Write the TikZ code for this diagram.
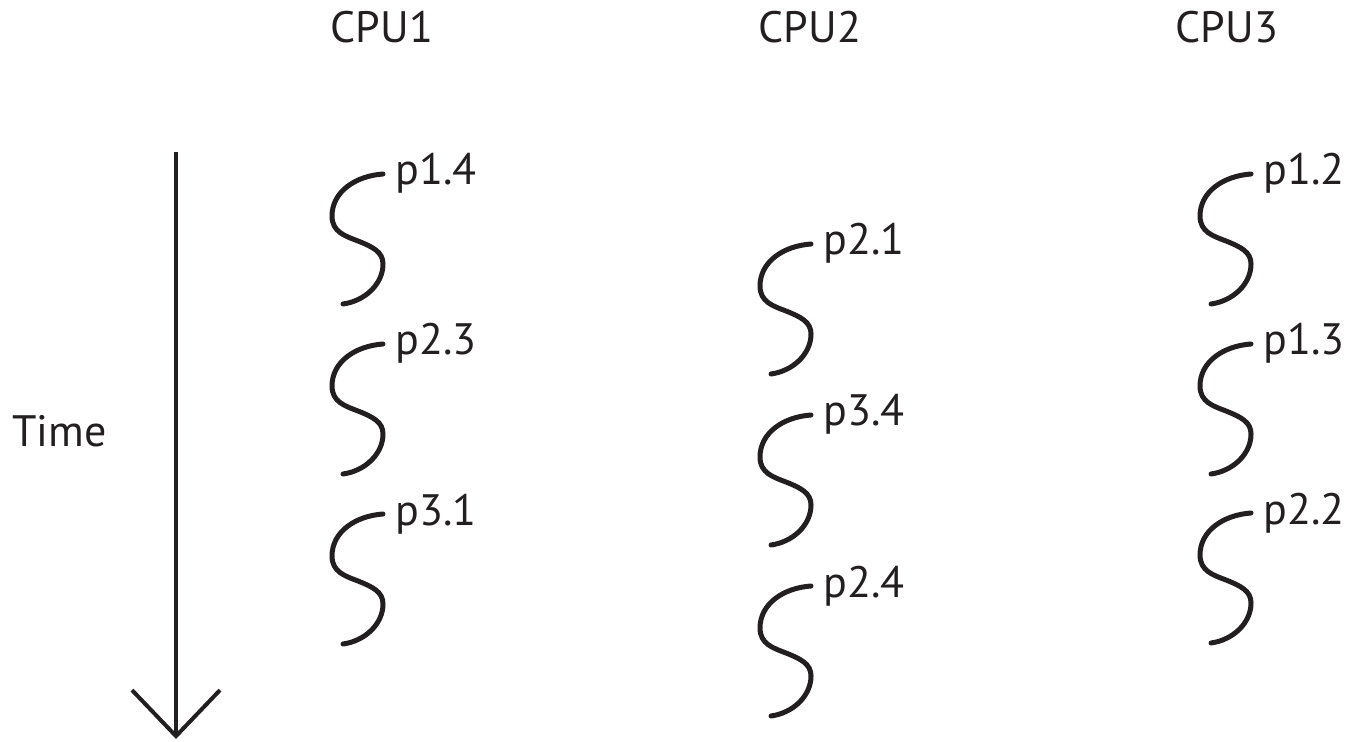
\documentclass[tikz,border=0pt]{standalone}
\usepackage{fontspec}
\setmainfont{PT Sans}
\usetikzlibrary{arrows.meta}
\definecolor{inkblack}{HTML}{231F20}

\begin{document}
\begin{tikzpicture}[x=0.5pt, y=-0.5pt, >={Straight Barb[length=23pt, width=44pt]},
    every node/.style={text=inkblack, font=\fontsize{22}{26}\selectfont, inner sep=0pt},
    thread/.style={inkblack, line width=2.5pt, line cap=round}]
  \useasboundingbox (0,0) rectangle (1348,742);
  % CPU headings
  \foreach \cx/\cpu in {382/CPU1, 810/CPU2, 1227/CPU3}
    \node[anchor=base] (\cpu) at (\cx,43) {\cpu};
  % Time axis
  \coordinate (axis top) at (176,152);
  \coordinate (axis end) at (176,739);
  \draw[->, inkblack, line width=2pt] (axis top) -- (axis end);
  \node[anchor=base west] (time) at (12,447) {Time};
  % Threads
  \foreach \tx/\ty/\tname [count=\i] in {383/174/p1.4, 383/344/p2.3, 383/514/p3.1,
      811/244/p2.1, 811/415/p3.4, 811/586/p2.4,
      1251/174/p1.2, 1251/344/p1.3, 1251/513/p2.2} {
    \coordinate (thread-\i) at (\tx,\ty);
    \begin{scope}[shift={(thread-\i)}]
      \draw[thread] (0,0) .. controls (-28,2) and (-51,18) .. (-51,42)
        .. controls (-51,58) and (-38,62) .. (-25,67)
        .. controls (-10,73) and (0,78) .. (0,90)
        .. controls (0,110) and (-18,127) .. (-40,130);
    \end{scope}
    \node[anchor=base west] (label-\i) at (\tx+12,\ty+11) {\tname};
  }
\end{tikzpicture}
\end{document}
